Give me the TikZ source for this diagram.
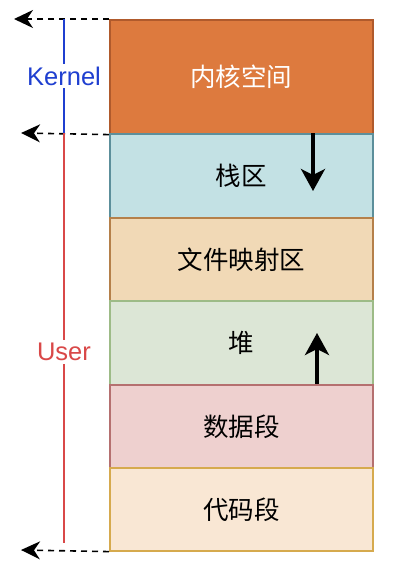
\documentclass[tikz,border=0pt]{standalone}
\usepackage{fontspec}
\setmainfont{Liberation Sans}
\newfontfamily\cjk{Noto Sans CJK SC}
\usetikzlibrary{arrows.meta}
\definecolor{kfill}{HTML}{DD7A3E}
\definecolor{kdraw}{HTML}{B05A2C}
\definecolor{sfill}{HTML}{C3E1E4}
\definecolor{sdraw}{HTML}{5C8F9B}
\definecolor{mfill}{HTML}{F1D9B6}
\definecolor{mdraw}{HTML}{B5804A}
\definecolor{hfill}{HTML}{DCE6D6}
\definecolor{hdraw}{HTML}{9DBB87}
\definecolor{dfill}{HTML}{EED0CF}
\definecolor{ddraw}{HTML}{B57070}
\definecolor{cfill}{HTML}{F9E7D4}
\definecolor{cdraw}{HTML}{D6AA4E}
\definecolor{kblue}{HTML}{1F3FD0}
\definecolor{ured}{HTML}{D94848}
\tikzset{
  seg/.style={rectangle, inner sep=0pt, anchor=north west, minimum width=263pt, line width=1.6pt,
    font=\cjk\fontsize{25.5}{30}\selectfont},
  bound/.style={dashed, dash pattern=on 6pt off 5pt, line width=1.6pt, -{Stealth[length=19pt,width=18pt,inset=6pt]}},
  growarrow/.style={line width=3.5pt, -{Stealth[length=22pt,width=24pt,inset=6pt]}},
  lbl/.style={fill=white, inner sep=3pt, font=\fontsize{25.5}{30}\selectfont},
}
\begin{document}
\begin{tikzpicture}[x=1pt,y=-1pt]
\useasboundingbox (0,0) rectangle (402,562);
\node[seg, fill=kfill, draw=kdraw, minimum height=114pt, text=white] (k) at (109,19) {内核空间};
\node[seg, fill=sfill, draw=sdraw, minimum height=84pt] (s) at (109,133) {栈区};
\node[seg, fill=mfill, draw=mdraw, minimum height=83pt] (m) at (109,217) {文件映射区};
\node[seg, fill=hfill, draw=hdraw, minimum height=84pt] (h) at (109,300) {堆};
\node[seg, fill=dfill, draw=ddraw, minimum height=83pt] (d) at (109,384) {数据段};
\node[seg, fill=cfill, draw=cdraw, minimum height=83pt] (c) at (109,467) {代码段};
% boundary arrows
\coordinate (t1) at (14,19);
\coordinate (t2) at (21,133);
\coordinate (t3) at (21,550);
\draw[bound] (k.north west) -- (t1);
\draw[bound] (k.south west) -- (t2);
\draw[bound] (c.south west) -- (t3);
% vertical lines
\coordinate (ka) at (64,19);
\coordinate (kb) at (64,133);
\coordinate (ub) at (64,543);
\draw[kblue, line width=1.6pt] (ka) -- (kb) node[midway, lbl, text=kblue] (kl) {Kernel};
\draw[ured, line width=1.6pt] (kb) -- (ub);
\node[lbl, text=ured] (ul) at (64,352) {User};
% growth arrows
\coordinate (sa) at (313,133);
\coordinate (sb) at (313,191);
\coordinate (ha) at (317,384);
\coordinate (hb) at (317,333);
\draw[growarrow] (sa) -- (sb);
\draw[growarrow] (ha) -- (hb);
\end{tikzpicture}
\end{document}
